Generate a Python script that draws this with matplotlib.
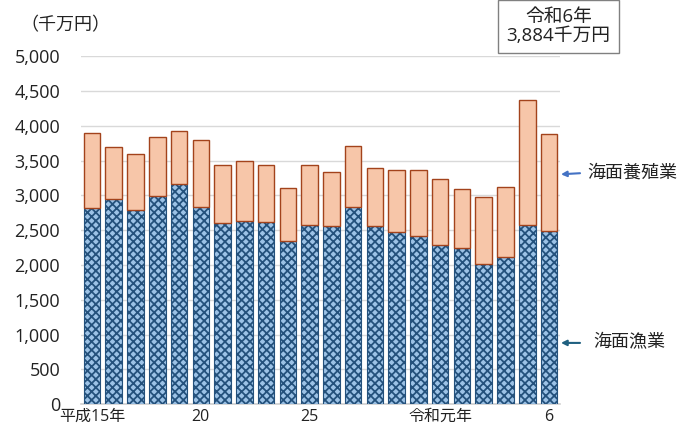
import matplotlib
matplotlib.use('Agg')
import matplotlib.pyplot as plt
import numpy as np

plt.rcParams['font.family'] = ['Open Sans', 'Noto Sans CJK JP', 'DejaVu Sans']
plt.rcParams['hatch.linewidth'] = 1.3

# data (千万円)
years = ['平成15年', '', '', '', '', '20', '', '', '', '', '25', '', '', '', '', '',
         '令和元年', '', '', '', '', '6']
fishing = [2814, 2954, 2785, 2992, 3160, 2839, 2608, 2632, 2612, 2344, 2579,
           2560, 2839, 2560, 2468, 2411, 2287, 2243, 2017, 2114, 2575, 2493]
totals = [3890, 3698, 3597, 3833, 3924, 3794, 3429, 3491, 3439, 3108, 3434,
          3338, 3708, 3396, 3367, 3367, 3238, 3098, 2973, 3122, 4366, 3884]
aquaculture = [t - f for t, f in zip(totals, fishing)]

fig = plt.figure(figsize=(6.93, 4.25), dpi=100)
ax = fig.add_axes([0.117, 0.049, 0.691, 0.819])

x = np.arange(len(fishing))
w = 0.76
ax.bar(x, fishing, width=w, color='#9cc2e6', edgecolor='#24517c',
       hatch='xxxx', linewidth=0.8, zorder=3)
ax.bar(x, aquaculture, bottom=fishing, width=w, color='#f7c6a9',
       edgecolor='#a3431c', linewidth=1.0, zorder=3)

ax.set_xlim(-0.5, len(fishing) - 0.5)
ax.set_ylim(0, 5000)
ax.set_yticks(np.arange(0, 5001, 500))
ax.set_yticklabels([f'{v:,}' for v in range(0, 5001, 500)], fontsize=13,
                   color='#222222')
ax.set_xticks(x)
ax.set_xticklabels(years, fontsize=11.5, color='#222222')
ax.tick_params(axis='both', length=0)
ax.tick_params(axis='y', pad=15)
ax.tick_params(axis='x', pad=3.5)
ax.grid(axis='y', color='#d9d9d9', linewidth=1.0, zorder=0)
for s in ['top', 'right', 'left']:
    ax.spines[s].set_visible(False)
ax.spines['bottom'].set_color('#d0d0d0')
ax.spines['bottom'].set_linewidth(1.2)

fig.text(0.095, 0.94, '（千万円）', fontsize=13, ha='center', va='center',
         color='#222222')

# callout box
fig.text(0.806, 0.938, '令和6年\n3,884千万円', fontsize=13.5, ha='center',
         va='center', linespacing=1.05, color='#222222',
         bbox=dict(boxstyle='square,pad=0.45', fc='white', ec='#808080', lw=1.0))

# series labels with arrows
ax.annotate('', xy=(21.42, 3300), xytext=(22.55, 3320),
            arrowprops=dict(arrowstyle='-|>', color='#4472c4', lw=1.5,
                            mutation_scale=8), annotation_clip=False)
fig.text(0.848, 0.594, '海面養殖業', fontsize=13, va='center', color='#222222')
ax.annotate('', xy=(21.42, 880), xytext=(22.55, 880),
            arrowprops=dict(arrowstyle='-|>', color='#1f6080', lw=1.5,
                            mutation_scale=8), annotation_clip=False)
fig.text(0.856, 0.195, '海面漁業', fontsize=13, va='center', color='#222222')

fig.savefig('out.png', dpi=100)
